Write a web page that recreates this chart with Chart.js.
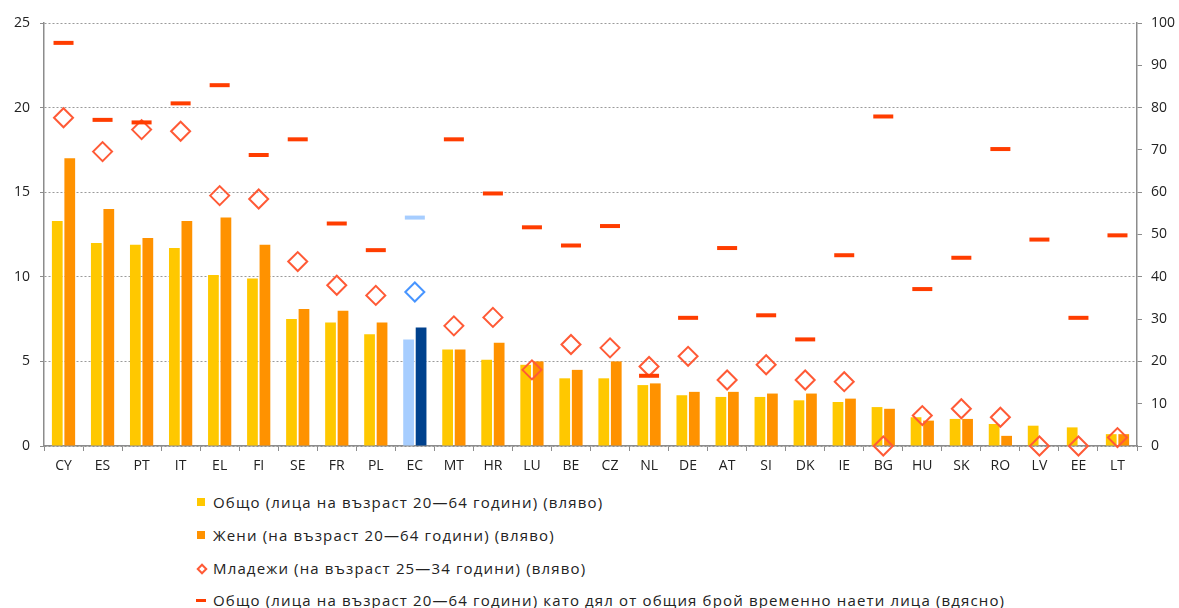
<!DOCTYPE html>
<html>
<head>
<meta charset="utf-8">
<script src="https://cdn.jsdelivr.net/npm/chart.js@4/dist/chart.umd.min.js"></script>
<style>
  html, body { margin: 0; padding: 0; background: #ffffff; }
  #wrap { position: relative; width: 1179px; height: 608px; overflow: hidden; }
  #chartBox { position: absolute; left: 0; top: 0; width: 1179px; height: 480px; }
  #legend { position: absolute; left: 194px; top: 486px; font-family: "Open Sans", sans-serif; font-size: 15px; letter-spacing: 1.15px; color: #222; }
  .li { height: 32.7px; display: flex; align-items: center; white-space: nowrap; }
  .mk { display: inline-block; width: 19px; height: 24px; position: relative; flex: none; }
</style>
</head>
<body>
<div id="wrap">
  <div id="chartBox"><canvas id="c"></canvas></div>
  <div id="legend"></div>
</div>
<script>
const categories = ['CY','ES','PT','IT','EL','FI','SE','FR','PL','EC','MT','HR','LU','BE','CZ','NL','DE','AT','SI','DK','IE','BG','HU','SK','RO','LV','EE','LT'];
const totalLeft = [13.3,12.0,11.9,11.7,10.1,9.9,7.5,7.3,6.6,6.3,5.7,5.1,4.8,4.0,4.0,3.6,3.0,2.9,2.9,2.7,2.6,2.3,1.7,1.6,1.3,1.2,1.1,0.7];
const womenLeft = [17.0,14.0,12.3,13.3,13.5,11.9,8.1,8.0,7.3,7.0,5.7,6.1,5.0,4.5,5.0,3.7,3.2,3.2,3.1,3.1,2.8,2.2,1.5,1.6,0.6,null,null,0.7];
const youthLeft = [19.4,17.4,18.7,18.6,14.8,14.6,10.9,9.5,8.9,9.1,7.1,7.6,4.5,6.0,5.8,4.7,5.3,3.9,4.8,3.9,3.8,0,1.8,2.2,1.7,0,0,0.5];
const shareRight = [95.3,77.1,76.5,81.0,85.3,68.8,72.5,52.6,46.3,54.0,72.5,59.7,51.7,47.4,52.0,16.6,30.3,46.8,30.9,25.2,45.1,77.9,37.1,44.5,70.2,48.8,30.3,49.8];
const leftTicks = {min: 0, max: 25, step: 5};
const rightTicks = {min: 0, max: 100, step: 10};
const seriesLabels = [
  'Общо (лица на възраст 20—64 години) (вляво)',
  'Жени (на възраст 20—64 години) (вляво)',
  'Младежи (на възраст 25—34 години) (вляво)',
  'Общо (лица на възраст 20—64 години) като дял от общия брой временно наети лица (вдясно)'
];
const highlight = 'EC';

const C = {
  total: '#ffc800', women: '#ff9200', youth: '#ff5a36', share: '#ff3d00',
  ecTotal: '#a6cdff', ecWomen: '#00418d', ecYouth: '#4895ff', ecShare: '#a6cdff'
};
const pick = (normal, special) => categories.map(c => c === highlight ? special : normal);

const axisColor = '#8c8c8c';
const gridColor = '#9a9a9a';
const font = {family: '"Open Sans", sans-serif', size: 14};

new Chart(document.getElementById('c'), {
  type: 'bar',
  data: {
    labels: categories,
    datasets: [
      {
        type: 'line', label: seriesLabels[3], data: shareRight, yAxisID: 'y1', order: 0,
        showLine: false, pointStyle: 'line', pointRadius: 10, pointHoverRadius: 10,
        pointBorderWidth: 4, pointHoverBorderWidth: 4,
        pointBorderColor: pick(C.share, C.ecShare), pointBackgroundColor: pick(C.share, C.ecShare),
        borderColor: C.share, backgroundColor: C.share
      },
      {
        type: 'line', label: seriesLabels[2], data: youthLeft, yAxisID: 'y', order: 1,
        showLine: false, pointStyle: 'rectRot', pointRadius: 9.5, pointHoverRadius: 9.5,
        pointBorderWidth: 2, pointHoverBorderWidth: 2,
        pointBorderColor: pick(C.youth, C.ecYouth), pointBackgroundColor: 'rgba(0,0,0,0)',
        borderColor: C.youth, backgroundColor: 'rgba(0,0,0,0)', clip: false
      },
      {
        label: seriesLabels[0], data: totalLeft, yAxisID: 'y', order: 2,
        backgroundColor: pick(C.total, C.ecTotal),
        categoryPercentage: 0.64, barPercentage: 0.86
      },
      {
        label: seriesLabels[1], data: womenLeft, yAxisID: 'y', order: 3,
        backgroundColor: pick(C.women, C.ecWomen),
        categoryPercentage: 0.64, barPercentage: 0.86
      }
    ]
  },
  options: {
    responsive: true,
    maintainAspectRatio: false,
    animation: false,
    layout: {padding: {top: 23, left: 0, right: 0, bottom: 0}},
    plugins: {legend: {display: false}, tooltip: {enabled: false}},
    scales: {
      x: {
        offset: true,
        grid: {offset: true, drawOnChartArea: false, drawTicks: true, tickLength: 5, tickColor: axisColor, lineWidth: 1},
        border: {display: true, color: axisColor, width: 1.5},
        ticks: {font: font, color: '#222', padding: 7, maxRotation: 0, autoSkip: false},
        afterFit: s => { s.height = 34; }
      },
      y: {
        position: 'left', min: leftTicks.min, max: leftTicks.max,
        ticks: {stepSize: leftTicks.step, font: font, color: '#222', padding: 10},
        grid: {color: gridColor, lineWidth: 1, tickLength: 4, tickColor: axisColor, tickBorderDash: []},
        border: {display: true, color: axisColor, width: 1.5, dash: [2, 2]},
        afterFit: s => { s.width = 44; }
      },
      y1: {
        position: 'right', min: rightTicks.min, max: rightTicks.max,
        ticks: {stepSize: rightTicks.step, font: font, color: '#222', padding: 9},
        grid: {drawOnChartArea: false, tickLength: 5, tickColor: axisColor},
        border: {display: true, color: axisColor, width: 1.5},
        afterFit: s => { s.width = 42; }
      }
    }
  }
});

// HTML legend, one entry per row
const legendEl = document.getElementById('legend');
const markers = [
  '<span class="mk"><span style="position:absolute;left:3px;top:8px;width:8px;height:8px;background:' + C.total + '"></span></span>',
  '<span class="mk"><span style="position:absolute;left:3px;top:8px;width:8px;height:8px;background:' + C.women + '"></span></span>',
  '<span class="mk"><span style="position:absolute;left:4px;top:9px;width:4px;height:4px;border:2px solid ' + C.youth + ';transform:rotate(45deg)"></span></span>',
  '<span class="mk"><span style="position:absolute;left:2px;top:11px;width:10px;height:3px;background:' + C.share + '"></span></span>'
];
const legendOrder = [0, 1, 2, 3];
legendOrder.forEach(i => {
  const row = document.createElement('div');
  row.className = 'li';
  row.innerHTML = markers[i] + '<span>' + seriesLabels[i] + '</span>';
  legendEl.appendChild(row);
});
</script>
</body>
</html>
